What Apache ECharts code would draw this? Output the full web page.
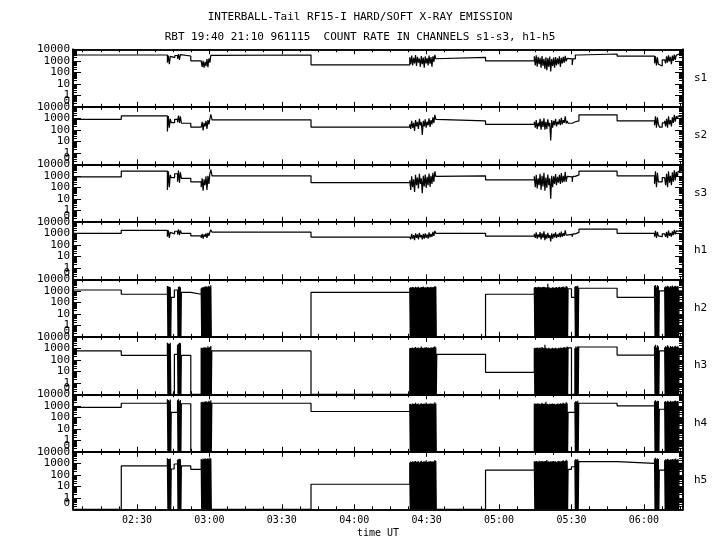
<!DOCTYPE html>
<html><head><meta charset="utf-8">
<script src="https://cdn.jsdelivr.net/npm/echarts@6/dist/echarts.min.js"></script>
<style>html,body{margin:0;padding:0;background:#fff}#c{width:720px;height:550px}</style>
</head><body><div id="c"></div><script>
// ---------------- DATA ----------------
const channelNames = ['s1','s2','s3','h1','h2','h3','h4','h5'];
const hardChannel = [false,false,false,false,true,true,true,true];
const xMin = 123.5, xMax = 376.2;           // minutes of day (02:03.5 .. 06:16.2)
const timeTicks = [150,180,210,240,270,300,330,360];
const timeLabels = ['02:30','03:00','03:30','04:00','04:30','05:00','05:30','06:00'];
const yTickValues = [0.1,1,10,100,1000,10000];
const yTickLabels = ['0','1','10','100','1000','10000'];
const ZERO = 0.1;                            // zero counts plotted at axis floor ("0")
// start times (min) of high-rate sample bursts A..H, sample spacing
const burstStart = [162.6,166.8,176.6,263.0,314.6,331.4,364.4,368.6];
const burstStep = 0.4;

// step levels [time(min), counts]
const s1Level = [[123.5,3200],[164.2,1900],[165.7,2900],[168.4,2600],[172.3,1000],[181.1,3200],[222.1,450],[274.2,2000],[294.4,1000],[328.6,1450],[330.3,430],[330.6,1450],[331.6,3200],[333.1,3900],[348.9,2600],[366.5,350],[367.6,1200],[374.6,3800],[376.2,3800]];
const s2Level = [[123.5,810],[143.5,1600],[164.2,420],[165.6,810],[168.4,370],[172.3,170],[181.1,730],[222.1,170],[274.2,600],[294.4,300],[328.6,370],[330.3,250],[330.6,500],[331.6,600],[333.1,2000],[348.9,600],[366.5,170],[367.6,400],[374.6,1200],[376.2,1200]];
const s3Level = [[123.5,800],[143.5,2600],[164.2,700],[165.6,1500],[168.4,600],[172.3,300],[181.1,1000],[222.1,250],[274.2,1000],[294.4,450],[328.6,800],[330.3,300],[330.6,900],[331.6,1200],[333.1,2600],[348.9,1000],[366.5,300],[367.6,700],[374.6,2000],[376.2,2000]];
const h1Level = [[123.5,1000],[143.5,1800],[164.2,900],[165.6,1500],[168.4,1000],[172.3,600],[181.1,1250],[222.1,470],[274.2,1000],[294.4,560],[328.6,800],[330.3,500],[330.6,900],[331.6,1200],[333.1,2300],[348.9,1000],[366.5,500],[367.6,900],[374.6,1400],[376.2,1400]];
const h2Level = [[123.5,1170],[143.5,500],[164.2,270],[165.5,1170],[168.4,740],[172.3,500],[181.0,0],[222.1,740],[274.2,0],[294.4,500],[328.6,1500],[330.0,270],[333.0,1660],[348.9,270],[366.4,1000],[374.6,1000],[376.2,1000]];
const h3Level = [[123.5,590],[143.5,245],[164.2,0],[165.5,300],[168.4,245],[172.3,0],[181.0,590],[222.1,0],[274.2,300],[294.4,8],[328.6,1100],[330.0,0],[333.0,1300],[348.9,260],[366.4,600],[374.6,600],[376.2,600]];
const h4Level = [[123.5,740],[143.5,1660],[164.2,270],[168.4,1500],[172.3,0],[181.0,1660],[222.1,320],[274.2,0],[328.6,270],[333.0,1660],[348.9,1000],[366.4,500],[374.6,800],[376.2,800]];
const h5Level = [[123.5,0],[143.5,590],[164.2,320],[165.4,870],[168.4,590],[172.3,300],[181.0,0],[222.1,15],[274.2,0],[294.4,260],[328.6,300],[330.0,500],[333.0,1400],[348.9,1000],[366.4,260],[374.6,1000],[376.2,1000]];

// burst samples (soft channels: consecutive samples; hard channels: peak of each sample, followed by a zero)
const s1Burst = [
 [700,2800,500,2400],[1500,3800,1200,3400],
 [900,300,1000,250,800,350,1400,280,1600,700,3000],
 [2000,500,2800,400,1800,600,3100,350,2200,700,1600,300,2600,500,1900,250,2400,600,1700,400,2900,550,2100,300,2500,800,3300,1500],
 [2500,400,3000,300,2200,500,1800,250,2600,350,1500,200,2000,150,1700,300,2300,120,1400,350,1900,250,2100,400,1600,500,2400,300,1800,600,2200,700,2700,900,1600],
 [],[600,2500,400,2000,500],
 [1500,600,2500,700,3000,900,2200,500,2800,1000,3500,1200,3000,2600,3800]];
const s2Burst = [
 [70,1600,150,900],[450,1700,400,1500],
 [150,500,90,400,200,600,120,700,300,900,2200],
 [300,120,600,150,400,80,700,200,500,120,900,250,450,35,600,200,800,150,500,250,1000,180,700,300,1200,400,2000,800],
 [500,150,700,120,400,200,900,100,600,180,1000,100,500,120,800,200,400,12,700,150,600,250,900,200,500,300,800,250,1100,300,700,400,1500,350,600],
 [],[250,1500,150,1200,300],
 [600,200,900,150,1500,300,700,200,1200,400,2000,500,1500,900,1600]];
const s3Burst = [
 [60,2500,100,1200],[300,2800,250,2000],
 [100,600,50,500,150,900,60,1000,200,1500,3500],
 [400,60,900,100,500,40,1200,150,700,80,1500,200,600,30,1000,120,1300,90,800,150,1600,110,1000,200,1800,300,2500,900],
 [900,100,1200,80,600,150,1500,60,1000,120,1800,50,700,90,1300,150,600,10,1000,100,900,200,1400,150,800,250,1200,200,1700,250,1000,300,2200,300,900],
 [],[200,2500,100,1800,300],
 [900,150,1500,100,2500,250,1000,150,2000,300,3000,400,2200,800,2500]];
const h1Burst = [
 [500,1800,400,1200],[800,2200,700,1800],
 [400,900,350,800,500,1000,400,1100,600,1300,2000],
 [600,300,900,350,700,250,1000,400,800,300,1100,450,700,300,900,350,1000,400,800,350,1200,450,900,500,1300,600,1600,1000],
 [900,400,1200,350,800,450,1300,300,1000,400,1500,250,800,350,1100,400,700,200,1000,350,900,450,1200,400,800,500,1100,450,1400,500,1000,600,1800,700,1000],
 [],[500,1600,400,1300,600],
 [900,500,1300,400,1700,600,1100,500,1500,700,2000,800,1600,1100,1500]];
const h2Burst = [
 [2600,2400,2200,2000],[1500,2200,2400,2000],
 [1700,2000,1900,2300,2100,2600,2000,2400,2800,2200,3000],
 [1800,2000,1900,2100,2000,1800,2300,1900,2000,2200,1800,1900,2100,2000,2400,1900,2000,1800,2200,2100,1900,2000,2300,1900,2100,2000,2600,2200],
 [1900,2100,2000,1900,2200,2000,2100,1900,2000,2100,2300,2000,2000,1900,4000,2000,1900,1700,1800,2000,1900,1800,1900,2100,1800,2000,2200,1900,2000,2100,2400,2000,1900,2600,2200],
 [2200,2600,2400,2800],[2800,3200,2000,3000,2500],
 [2000,2500,2200,2800,2400,2000,2600,2300,2900,2100,2500,2700,2300,2600,2400]];
const h3Burst = [
 [3000,2600,2400,3100],[2000,2500,3000,2800],
 [1100,1000,1200,1100,1300,1000,1200,1500,1100,1300,1600],
 [1000,1100,1050,1200,1000,1100,1300,1050,1100,1200,1000,1100,1400,1100,1000,1150,1100,1300,1050,1200,1100,1000,1250,1100,1200,1300,1500,1200],
 [1000,1100,1050,1200,1000,1100,1200,1000,1300,1100,1000,2000,1100,1000,950,1100,1000,900,1000,1100,950,1000,1100,1000,900,1100,1000,1200,1100,1050,1150,1300,1100,1200,1400],
 [1000,1400,1200,1500],[1500,2000,1200,1800,1400],
 [1200,1500,1300,1800,1400,1100,1600,1300,1500,1200,1400,1700,1300,1500,1400]];
const h4Burst = [
 [3700,3200,2800,3500],[3000,3700,2500,3200],
 [2000,2200,1900,2400,2100,2600,2000,2300,2800,2200,3000],
 [1400,1500,1300,1600,1400,1500,1800,1400,1500,1600,1300,1500,1700,1400,1500,1600,1400,1900,1500,1400,1600,1500,1700,1400,1600,1500,2000,1600],
 [1500,1600,1400,1700,1500,1600,1400,1500,1800,1500,1400,1600,2200,1500,1400,1300,1500,1400,1500,1600,1400,1500,1300,1400,1600,1500,1400,1700,1500,1600,1800,1500,1600,2000,1700],
 [2000,2600,2200,2800],[2500,3000,2200,2800,2600],
 [2200,2600,2000,2800,2400,2100,2700,2300,2500,2200,2600,2900,2400,2600,2500]];
const h5Burst = [
 [2700,2400,2200,2600],[2000,2200,2500,2300],
 [2400,2000,2600,2200,2800,2300,2500,2700,2200,3000,2600],
 [1200,1400,1300,1500,1350,1400,1600,1300,1400,1500,1200,1400,1700,1300,1400,1500,1350,1800,1400,1300,1500,1400,1600,1300,1500,1400,1900,1600],
 [1500,1400,1600,1500,1300,1700,1500,1400,1600,1500,1400,1600,1500,1900,1400,1500,1300,1500,1400,1500,1600,1400,1500,1300,1400,1600,1500,1400,1500,1600,1800,1500,1600,2000,1700],
 [1800,2400,2000,2200],[2500,3000,2200,2800,2400],
 [1800,2200,2000,2500,2100,1900,2300,2000,2400,2100,2200,2600,2000,2300,2200]];

const channelLevels = [s1Level,s2Level,s3Level,h1Level,h2Level,h3Level,h4Level,h5Level];
const channelBursts = [s1Burst,s2Burst,s3Burst,h1Burst,h2Burst,h3Burst,h4Burst,h5Burst];

// ---------------- BUILD ----------------
function buildData(levels, bursts, hard) {
  const pts = levels.map(p => [p[0], p[1]]);
  bursts.forEach((vals, k) => {
    vals.forEach((v, j) => {
      const t = burstStart[k] + j * burstStep;
      pts.push([t, v]);
      if (hard) pts.push([t + burstStep / 2, 0]);
    });
  });
  pts.sort((a, b) => a[0] - b[0]);
  return pts.map(p => [p[0], p[1] > 0 ? p[1] : ZERO]);
}

const minorTimeTicks = [];
for (let t = Math.ceil(xMin / 7.5) * 7.5; t <= xMax; t += 7.5) minorTimeTicks.push(t);
const minorYTicks = [];
[0.1,1,10,100,1000].forEach(d => { for (let k = 2; k <= 9; k++) minorYTicks.push(+(d * k).toPrecision(3)); });
// upper labels 1..10000 on the major axis; the floor label "0" on a separate axis
const upperLabelPos = yTickValues.slice(1).map((v, k, a) => k === a.length - 1 ? v * 0.9999 : v);
const floorLabelPos = [yTickValues[0] * 1.0001];

const FONT = 'DejaVu Sans Mono';
const BLACK = '#000';
const gridLeft = 73, gridRight = 37, top0 = 49.3, ph = 57.5;
const labelFmt = v => {
  const k = yTickValues.findIndex(u => Math.abs(u - v) / u < 1e-3);
  return k === 0 ? '{b|' + yTickLabels[0] + '}' : yTickLabels[k];
};

const grids = [], xAxes = [], yAxes = [], series = [];
channelNames.forEach((name, i) => {
  grids.push({ left: gridLeft, right: gridRight, top: top0 + i * ph, height: ph });
  const last = i === channelNames.length - 1;
  const mkX = (pos, ticks, len, withLabel) => ({
    type: 'value', gridIndex: i, position: pos, min: xMin, max: xMax,
    axisLine: { show: true, onZero: false, lineStyle: { color: BLACK, width: 1.5 } },
    axisTick: { show: true, inside: true, length: len, customValues: ticks, lineStyle: { color: BLACK, width: 1 } },
    axisLabel: withLabel ? {
      show: true, customValues: timeTicks, margin: 6, color: BLACK, fontFamily: FONT, fontSize: 10,
      formatter: v => timeLabels[timeTicks.indexOf(v)]
    } : { show: false },
    splitLine: { show: false },
    name: withLabel ? 'time UT' : '', nameLocation: 'middle', nameGap: 19,
    nameTextStyle: { color: BLACK, fontFamily: FONT, fontSize: 10 }
  });
  xAxes.push(mkX('bottom', timeTicks, 5, last));
  xAxes.push(mkX('bottom', minorTimeTicks, 3, false));
  xAxes.push(mkX('top', timeTicks, 5, false));
  xAxes.push(mkX('top', minorTimeTicks, 3, false));

  const mkY = (pos, ticks, len, labelPos, axName) => ({
    type: 'log', logBase: 10, gridIndex: i, position: pos, min: 0.1, max: 10000,
    axisLine: { show: true, onZero: false, lineStyle: { color: BLACK, width: 1.5 } },
    axisTick: { show: true, inside: true, length: len, customValues: ticks, lineStyle: { color: BLACK, width: 1 } },
    axisLabel: labelPos ? {
      show: true, customValues: labelPos, margin: 3, color: BLACK, fontFamily: FONT, fontSize: 11,
      showMinLabel: true, showMaxLabel: true, formatter: labelFmt,
      rich: { b: { fontFamily: FONT, fontSize: 11, color: BLACK, padding: [0, 0, 12, 0] } }
    } : { show: false },
    splitLine: { show: false }, minorTick: { show: false }, minorSplitLine: { show: false },
    name: axName || '', nameLocation: 'middle', nameRotate: 0, nameGap: 11,
    nameTextStyle: { color: BLACK, fontFamily: FONT, fontSize: 11, align: 'left' }
  });
  yAxes.push(mkY('left', yTickValues, 8, upperLabelPos));
  yAxes.push(mkY('left', minorYTicks, 4, floorLabelPos));
  yAxes.push(mkY('right', yTickValues, 8, null, name));
  yAxes.push(mkY('right', minorYTicks, 4, null));

  series.push({
    type: 'line', name: name, xAxisIndex: 4 * i, yAxisIndex: 4 * i,
    data: buildData(channelLevels[i], channelBursts[i], hardChannel[i]),
    step: 'end', symbol: 'none', showSymbol: false, clip: true, silent: true,
    lineStyle: { color: BLACK, width: 1.2 }, emphasis: { disabled: true }
  });
});

const chart = echarts.init(document.getElementById('c'), null, { renderer: 'canvas' });
chart.setOption({
  animation: false,
  backgroundColor: '#fff',
  textStyle: { fontFamily: FONT, color: BLACK },
  title: [
    { text: 'INTERBALL-Tail RF15-I HARD/SOFT X-RAY EMISSION', left: 'center', top: 7,
      textStyle: { fontFamily: FONT, fontSize: 11, fontWeight: 'normal', color: BLACK } },
    { text: 'RBT 19:40 21:10 961115  COUNT RATE IN CHANNELS s1-s3, h1-h5', left: 'center', top: 27,
      textStyle: { fontFamily: FONT, fontSize: 11, fontWeight: 'normal', color: BLACK } }
  ],
  grid: grids, xAxis: xAxes, yAxis: yAxes, series: series
});
</script></body></html>
